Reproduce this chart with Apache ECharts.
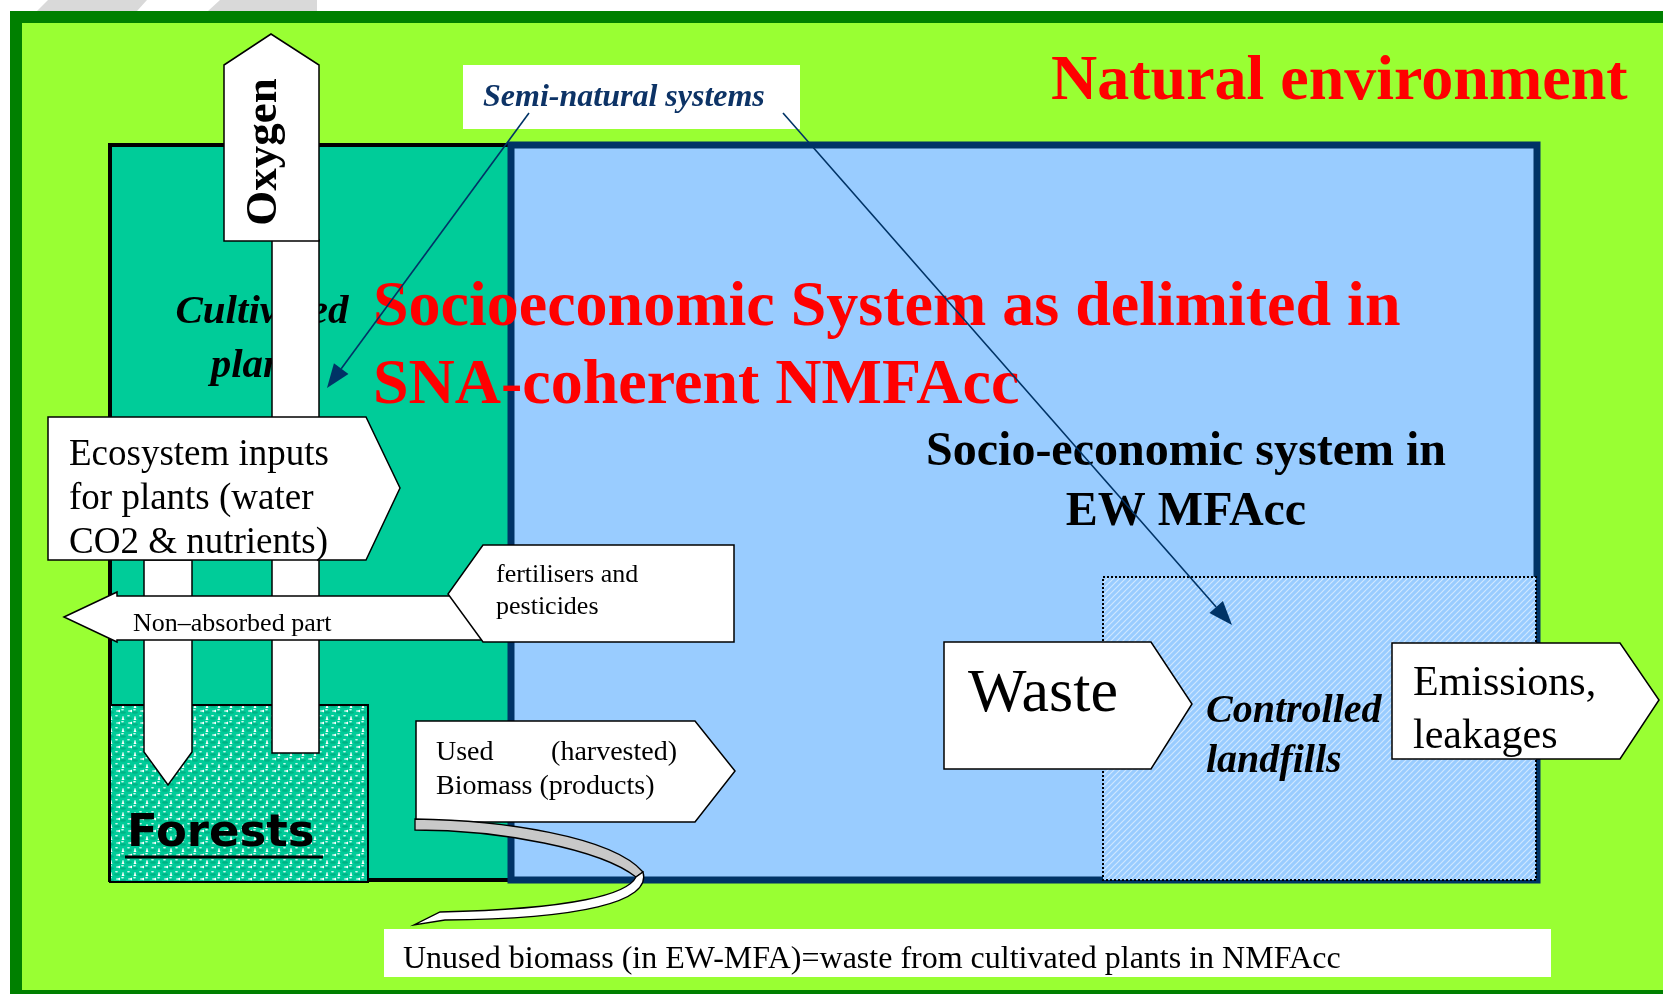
<!DOCTYPE html>
<html>
<head>
<meta charset="utf-8">
<style>
html,body{margin:0;padding:0;background:#fff;}
#main{width:1663px;height:994px;}
</style>
</head>
<body>
<div id="main"></div>
<script src="https://cdn.jsdelivr.net/npm/echarts@6/dist/echarts.min.js"></script>
<script>
// ---- diagram geometry (page units, y grows downward) ----
// rectangles: [x0, y0, x1, y1]
var frameRect = [10, 11, 1700, 1010];
var fieldRect = [22, 23, 1700, 990];
var cultivatedRect = [110, 145, 511, 880];
var socioRect = [511, 145, 1537, 880];
var forestRect = [110, 705, 368, 882];
var landfillRect = [1103, 577, 1536, 880];
var semiLabelRect = [463, 65, 800, 129];
var bottomLabelRect = [384, 929, 1551, 977];
var oxygenShaft = [272, 240, 319, 753];

// arrow boxes: [backX, y0, shoulderX, y1, tipX, tipY]
var ecoBox = [48, 417, 366, 560, 400, 488];
var usedBox = [416, 721, 695, 822, 735, 771];
var wasteBox = [944, 642, 1151, 769, 1192, 704];
var emissionBox = [1392, 643, 1620, 759, 1659, 700];
var fertBox = [734, 545, 483, 642, 448, 594];

// polygons
var grayTop = [[[48, 0], [147, 0], [137, 11], [37, 11]], [[220, 0], [317, 0], [317, 11], [208, 11]]];
var oxygenHead = [[224, 65], [271, 34], [319, 65], [319, 241], [224, 241]];
var leftShaft = [[144, 560], [192, 560], [192, 752], [168, 785], [144, 752]];
var nonAbsorbed = [[64, 617], [117, 592], [117, 596], [490, 596], [490, 640], [117, 640], [117, 642]];

// ribbon from the used-biomass box (bezier control points)
var ribbonUpper = [[415, 819], [500, 820], [612, 836], [643, 872], [636, 877], [600, 849], [500, 830], [415, 830]];
var ribbonLower = [[643, 872], [652, 902], [580, 919], [445, 920], [414, 925], [440, 912], [575, 909], [628, 894], [636, 877]];

// pointer lines from "Semi-natural systems": [x0, y0, tipX, tipY]
var pointers = [[529, 113, 327, 388], [783, 113, 1232, 625]];
var forestUnderline = [125, 857, 323, 857];

// ---- texts ----
var naturalText = 'Natural environment';
var naturalAt = [1051, 82];
var redLines = ['Socioeconomic System as delimited in', 'SNA-coherent NMFAcc'];
var redAt = [[373, 308], [373, 386]];
var ewLines = ['Socio-economic system in', 'EW MFAcc'];
var ewAt = [[1186, 453], [1186, 513]];
var cultLines = ['Cultivated', 'plants'];
var cultAt = [[262, 312], [262, 366]];
var semiText = 'Semi-natural systems';
var semiAt = [483, 98];
var oxygenText = 'Oxygen';
var oxygenAt = [264, 152];
var ecoLines = ['Ecosystem inputs', 'for plants (water', 'CO2 & nutrients)'];
var ecoAt = [[69, 455], [69, 499], [69, 543]];
var nonAbsText = 'Non\u2013absorbed part';
var nonAbsAt = [133, 624];
var fertLines = ['fertilisers and', 'pesticides'];
var fertAt = [[496, 575], [496, 607]];
var usedLines = ['Used', '(harvested)', 'Biomass (products)'];
var usedAt = [[436, 753], [677, 753], [436, 787]];
var forestText = 'Forests';
var forestAt = [127, 834];
var wasteText = 'Waste';
var wasteAt = [968, 695];
var landfillLines = ['Controlled', 'landfills'];
var landfillAt = [[1206, 712], [1206, 762]];
var emissionLines = ['Emissions,', 'leakages'];
var emissionAt = [[1413, 684], [1413, 737]];
var bottomText = 'Unused biomass (in EW-MFA)=waste from cultivated plants in NMFAcc';
var bottomAt = [403, 960];

// ---- fill patterns ----
function forestPattern() {
    var c = document.createElement('canvas');
    c.width = 12; c.height = 12;
    var g = c.getContext('2d');
    g.fillStyle = '#ffffff';
    g.fillRect(0, 0, 12, 12);
    g.fillStyle = '#00CC99';
    [[3, 3], [9, 9], [-3, 9], [15, 9], [9, -3], [9, 15], [15, 15], [-3, -3], [15, -3], [-3, 15]].forEach(function (p) {
        g.beginPath(); g.arc(p[0], p[1], 5.4, 0, Math.PI * 2); g.fill();
    });
    g.fillStyle = '#00b386';
    [[3, 4.5], [9, 10.5]].forEach(function (p) {
        g.beginPath(); g.ellipse(p[0], p[1], 3, 1.2, 0, 0, Math.PI * 2); g.fill();
    });
    g.fillStyle = '#d6faef';
    [[2.5, 1.8], [8.5, 7.8]].forEach(function (p) {
        g.beginPath(); g.ellipse(p[0], p[1], 1.5, 0.7, 0, 0, Math.PI * 2); g.fill();
    });
    return c;
}
function hatchPattern() {
    var c = document.createElement('canvas');
    c.width = 6; c.height = 6;
    var g = c.getContext('2d');
    g.fillStyle = '#99CCFF';
    g.fillRect(0, 0, 6, 6);
    g.strokeStyle = '#cfe7ff';
    g.lineWidth = 1.2;
    [[-1, 7, 7, -1], [-4, 4, 4, -4], [2, 10, 10, 2]].forEach(function (l) {
        g.beginPath(); g.moveTo(l[0], l[1]); g.lineTo(l[2], l[3]); g.stroke();
    });
    return c;
}

var SERIF = 'Liberation Serif';
var NAVY = '#003366';
var BLK = '#000000';

// ---- element helpers ----
function rectEl(api, r, style) {
    var a = api.coord([r[0], r[1]]), b = api.coord([r[2], r[3]]);
    return {type: 'rect', shape: {x: a[0], y: a[1], width: b[0] - a[0], height: b[1] - a[1]}, style: style};
}
function polyEl(api, pts, style) {
    return {type: 'polygon', shape: {points: pts.map(function (p) { return api.coord(p); })}, style: style};
}
function arrowBox(b) {
    return [[b[0], b[1]], [b[2], b[1]], [b[4], b[5]], [b[2], b[3]], [b[0], b[3]]];
}
// f: [size, weight, style, family]
function textEl(api, p, text, f, color, align, rotation) {
    var c = api.coord(p);
    return {
        type: 'text', x: c[0], y: c[1], rotation: rotation || 0,
        style: {
            text: text, fontSize: f[0], fontWeight: f[1], fontStyle: f[2], fontFamily: f[3] || SERIF,
            fill: color, align: align || 'left', verticalAlign: 'middle'
        }
    };
}
function ribbonPath(api, pts, lower) {
    var q = pts.map(function (p) { return api.coord(p); });
    var s = function (p) { return p[0] + ' ' + p[1]; };
    if (!lower) {
        return 'M' + s(q[0]) + 'C' + s(q[1]) + ' ' + s(q[2]) + ' ' + s(q[3]) + 'L' + s(q[4]) +
            'C' + s(q[5]) + ' ' + s(q[6]) + ' ' + s(q[7]) + 'Z';
    }
    return 'M' + s(q[0]) + 'C' + s(q[1]) + ' ' + s(q[2]) + ' ' + s(q[3]) + 'L' + s(q[4]) + 'L' + s(q[5]) +
        'C' + s(q[6]) + ' ' + s(q[7]) + ' ' + s(q[8]) + 'Z';
}
function pointerEls(api, l) {
    var a = api.coord([l[0], l[1]]), b = api.coord([l[2], l[3]]);
    var dx = b[0] - a[0], dy = b[1] - a[1], len = Math.sqrt(dx * dx + dy * dy);
    var ux = dx / len, uy = dy / len, h = 24, w = 9;
    var base = [b[0] - ux * h, b[1] - uy * h];
    return [
        {type: 'line', shape: {x1: a[0], y1: a[1], x2: base[0], y2: base[1]}, style: {stroke: NAVY, lineWidth: 1.6}},
        {type: 'polygon', shape: {points: [b, [base[0] - uy * w, base[1] + ux * w], [base[0] + uy * w, base[1] - ux * w]]}, style: {fill: NAVY}}
    ];
}

var white = {fill: '#ffffff', stroke: BLK, lineWidth: 1.5};

// drawing layers, bottom to top
var layers = [
    function (api) { return grayTop.map(function (p) { return polyEl(api, p, {fill: '#d9d9d9'}); }); },
    function (api) { return [rectEl(api, frameRect, {fill: '#008000'}), rectEl(api, fieldRect, {fill: '#99FF33'})]; },
    function (api) {
        return [
            rectEl(api, cultivatedRect, {fill: '#00CC99', stroke: BLK, lineWidth: 4}),
            rectEl(api, socioRect, {fill: '#99CCFF', stroke: NAVY, lineWidth: 7})
        ];
    },
    function (api) {
        var u0 = api.coord([forestUnderline[0], forestUnderline[1]]), u1 = api.coord([forestUnderline[2], forestUnderline[3]]);
        return [
            rectEl(api, forestRect, {fill: {image: forestPattern(), repeat: 'repeat'}, stroke: BLK, lineWidth: 2}),
            rectEl(api, landfillRect, {fill: {image: hatchPattern(), repeat: 'repeat'}, stroke: BLK, lineWidth: 2, lineDash: [2, 2]}),
            textEl(api, forestAt, forestText, [45, 'bold', 'normal', 'DejaVu Sans'], BLK),
            {type: 'line', shape: {x1: u0[0], y1: u0[1], x2: u1[0], y2: u1[1]}, style: {stroke: BLK, lineWidth: 3}}
        ];
    },
    function (api) {
        var els = [];
        cultLines.forEach(function (t, i) { els.push(textEl(api, cultAt[i], t, [41, 'bold', 'italic'], BLK, 'center')); });
        redLines.forEach(function (t, i) { els.push(textEl(api, redAt[i], t, [64, 'bold', 'normal'], '#FF0000')); });
        ewLines.forEach(function (t, i) { els.push(textEl(api, ewAt[i], t, [48, 'bold', 'normal'], BLK, 'center')); });
        els.push(textEl(api, naturalAt, naturalText, [64, 'bold', 'normal'], '#FF0000'));
        return els;
    },
    function (api) { return [rectEl(api, oxygenShaft, white), polyEl(api, leftShaft, white)]; },
    function (api) {
        var els = [polyEl(api, arrowBox(ecoBox), white)];
        ecoLines.forEach(function (t, i) { els.push(textEl(api, ecoAt[i], t, [37, 'normal', 'normal'], BLK)); });
        els.push(polyEl(api, nonAbsorbed, white));
        els.push(textEl(api, nonAbsAt, nonAbsText, [26, 'normal', 'normal'], BLK));
        els.push(polyEl(api, arrowBox(fertBox), white));
        fertLines.forEach(function (t, i) { els.push(textEl(api, fertAt[i], t, [26, 'normal', 'normal'], BLK)); });
        return els;
    },
    function (api) {
        var els = [polyEl(api, arrowBox(usedBox), white)];
        els.push(textEl(api, usedAt[0], usedLines[0], [28, 'normal', 'normal'], BLK));
        els.push(textEl(api, usedAt[1], usedLines[1], [28, 'normal', 'normal'], BLK, 'right'));
        els.push(textEl(api, usedAt[2], usedLines[2], [28, 'normal', 'normal'], BLK));
        els.push({type: 'path', shape: {pathData: ribbonPath(api, ribbonUpper, false)}, style: {fill: '#c8c8c8', stroke: BLK, lineWidth: 1.3}});
        els.push({type: 'path', shape: {pathData: ribbonPath(api, ribbonLower, true)}, style: {fill: '#ffffff', stroke: BLK, lineWidth: 1.3}});
        return els;
    },
    function (api) {
        var els = [polyEl(api, arrowBox(wasteBox), white), textEl(api, wasteAt, wasteText, [62, 'normal', 'normal'], BLK)];
        landfillLines.forEach(function (t, i) { els.push(textEl(api, landfillAt[i], t, [40, 'bold', 'italic'], BLK)); });
        els.push(polyEl(api, arrowBox(emissionBox), white));
        emissionLines.forEach(function (t, i) { els.push(textEl(api, emissionAt[i], t, [42, 'normal', 'normal'], BLK)); });
        return els;
    },
    function (api) {
        return [
            rectEl(api, bottomLabelRect, {fill: '#ffffff'}),
            textEl(api, bottomAt, bottomText, [32, 'normal', 'normal'], BLK),
            rectEl(api, semiLabelRect, {fill: '#ffffff'}),
            textEl(api, semiAt, semiText, [32, 'bold', 'italic'], '#0d3366')
        ];
    },
    function (api) { return pointerEls(api, pointers[0]).concat(pointerEls(api, pointers[1])); },
    function (api) {
        return [
            polyEl(api, oxygenHead, white),
            textEl(api, oxygenAt, oxygenText, [45, 'bold', 'normal'], BLK, 'center', Math.PI / 2)
        ];
    }
];

var chart = echarts.init(document.getElementById('main'));
chart.setOption({
    animation: false,
    grid: {left: 0, right: 0, top: 0, bottom: 0},
    xAxis: {type: 'value', min: 0, max: 1663, show: false},
    yAxis: {type: 'value', min: 0, max: 994, inverse: true, show: false},
    series: [{
        type: 'custom',
        coordinateSystem: 'cartesian2d',
        silent: true,
        clip: false,
        data: layers.map(function (f, i) { return [i, 0]; }),
        renderItem: function (params, api) {
            var children = layers[params.dataIndex](api);
            children.forEach(function (c) { c.z2 = params.dataIndex; });
            return {type: 'group', children: children};
        }
    }]
});
</script>
</body>
</html>
